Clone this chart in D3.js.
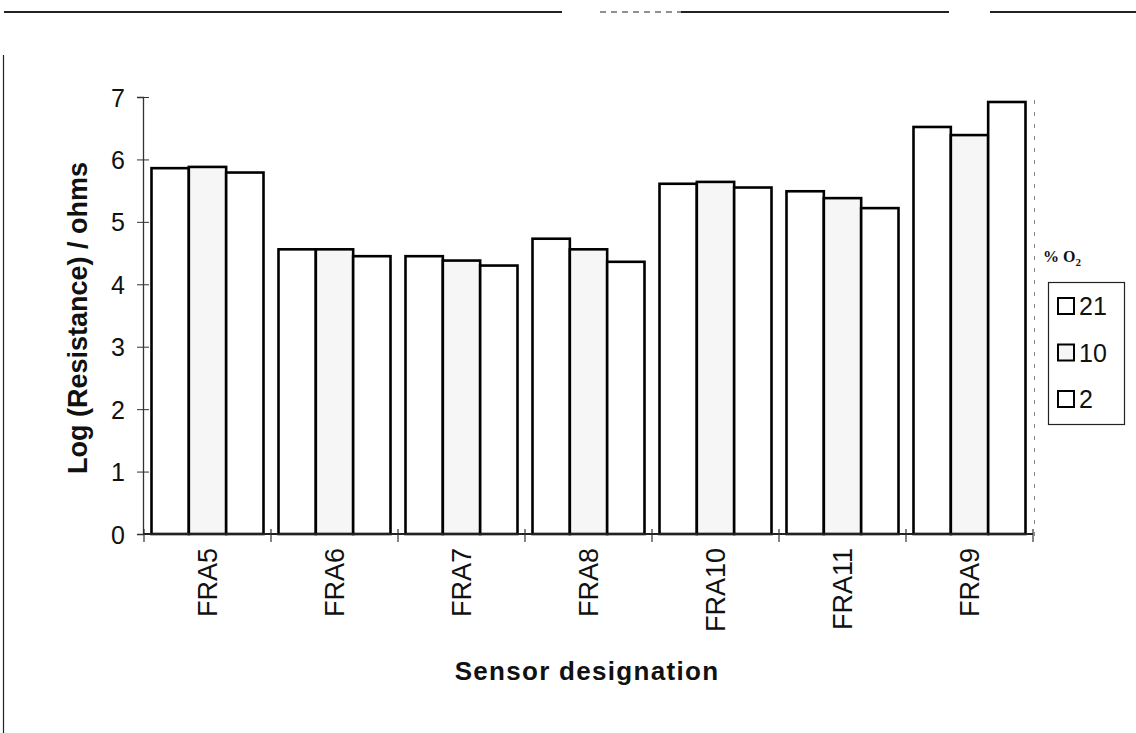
<!DOCTYPE html>
<html>
<head>
<meta charset="utf-8">
<script src="https://cdn.jsdelivr.net/npm/d3@7"></script>
<style>
  html, body { margin: 0; padding: 0; background: #fff; }
  svg { display: block; }
  text { font-family: "Liberation Sans", Arial, sans-serif; fill: #111; }
</style>
</head>
<body>
<svg id="chart" width="1136" height="733"></svg>
<script>
// ---- data ----
const categories = ["FRA5", "FRA6", "FRA7", "FRA8", "FRA10", "FRA11", "FRA9"];
const seriesNames = ["21", "10", "2"];
const o2_21 = [5.86, 4.56, 4.45, 4.73, 5.61, 5.49, 6.52];
const o2_10 = [5.88, 4.56, 4.38, 4.56, 5.64, 5.38, 6.39];
const o2_2  = [5.79, 4.45, 4.30, 4.36, 5.55, 5.22, 6.92];
const yTicks = [0, 1, 2, 3, 4, 5, 6, 7];
const yTitle = "Log (Resistance) / ohms";
const xTitle = "Sensor designation";
const legendTitle = "% O";

const seriesValues = [o2_21, o2_10, o2_2];
const seriesFill = ["#ffffff", "#f6f6f6", "#ffffff"];

const svg = d3.select("#chart");

// frame lines of the scanned page
const frame = svg.append("g").attr("stroke", "#222").attr("fill", "none");
[[4, 562], [681, 949], [990, 1136]].forEach(([a, b]) => {
  frame.append("line").attr("x1", a).attr("x2", b).attr("y1", 12).attr("y2", 12).attr("stroke-width", 2);
});
frame.append("line").attr("x1", 600).attr("x2", 681).attr("y1", 12).attr("y2", 12)
  .attr("stroke-width", 1.2).attr("stroke-dasharray", "6,5");
frame.append("line").attr("x1", 3.5).attr("x2", 3.5).attr("y1", 55).attr("y2", 733)
  .attr("stroke-width", 1.2);

// scales
const x0 = d3.scaleBand().domain(categories).range([144, 1033]).paddingInner(0).paddingOuter(0);
const x1 = d3.scaleBand().domain(seriesNames).range([7.5, x0.bandwidth() - 7.5]).padding(0);
const y = d3.scaleLinear().domain([0, 7]).range([534, 97]);

// plot area right border (dotted)
svg.append("line").attr("x1", 1034.5).attr("x2", 1034.5).attr("y1", 100).attr("y2", 544)
  .attr("stroke", "#888").attr("stroke-width", 1).attr("stroke-dasharray", "4,8");

// bars
const groups = svg.append("g").selectAll("g").data(categories).join("g")
  .attr("transform", d => `translate(${x0(d)},0)`);
groups.selectAll("rect")
  .data((d, i) => seriesNames.map((s, k) => ({ s, k, v: seriesValues[k][i] })))
  .join("rect")
  .attr("x", d => x1(d.s))
  .attr("y", d => y(d.v))
  .attr("width", x1.bandwidth())
  .attr("height", d => y(0) - y(d.v))
  .attr("fill", d => seriesFill[d.k])
  .attr("stroke", "#000")
  .attr("stroke-width", 2.6);

// y axis
const yAxis = svg.append("g").attr("transform", "translate(143,0)")
  .call(d3.axisLeft(y).tickValues(yTicks).tickSize(6).tickPadding(12).tickFormat(d3.format("d")));
yAxis.select(".domain").attr("stroke", "#333").attr("stroke-width", 1.3);
yAxis.selectAll(".tick line").attr("x1", -6).attr("x2", 6).attr("stroke", "#333");
yAxis.selectAll(".tick text")
  .style("font-size", "25px").style("font-family", "'Liberation Sans', Arial, sans-serif")
  .attr("fill", "#111").attr("dy", "0.36em");

// x axis
const xAxis = svg.append("g").attr("transform", "translate(0,534)");
xAxis.append("line").attr("x1", 143).attr("x2", 1033).attr("y1", 0).attr("y2", 0)
  .attr("stroke", "#222").attr("stroke-width", 2);
const boundaries = categories.map(c => x0(c)).concat([x0(categories[categories.length - 1]) + x0.bandwidth()]);
xAxis.selectAll("line.tk").data(boundaries).join("line").attr("class", "tk")
  .attr("x1", d => d).attr("x2", d => d).attr("y1", -5).attr("y2", 8)
  .attr("stroke", "#333").attr("stroke-width", 1.2);
xAxis.selectAll("text").data(categories).join("text")
  .attr("transform", d => `translate(${x0(d) + x0.bandwidth() / 2},14) rotate(-90)`)
  .attr("text-anchor", "end")
  .attr("dy", "0.36em")
  .style("font-size", "27px")
  .text(d => d);

// axis titles
svg.append("text")
  .attr("transform", "translate(77,318) rotate(-90)")
  .attr("text-anchor", "middle").attr("dy", "0.36em")
  .style("font-size", "27px").style("font-weight", "bold")
  .text(yTitle);
svg.append("text")
  .attr("x", 587).attr("y", 680)
  .attr("text-anchor", "middle")
  .style("font-size", "26px").style("font-weight", "bold").style("letter-spacing", "1.3px")
  .text(xTitle);

// legend
const lt = svg.append("text").attr("x", 1043).attr("y", 262)
  .style("font-family", "'Liberation Serif', 'Times New Roman', serif")
  .style("font-size", "16px").style("font-weight", "bold");
lt.append("tspan").text(legendTitle);
lt.append("tspan").attr("dy", 4).style("font-size", "11px").text("2");

svg.append("rect").attr("x", 1048.5).attr("y", 282.5).attr("width", 76).attr("height", 142)
  .attr("fill", "#fff").attr("stroke", "#222").attr("stroke-width", 1.2);
const legendY = d3.scalePoint().domain(seriesNames).range([306, 399]);
const li = svg.append("g").selectAll("g").data(seriesNames).join("g")
  .attr("transform", d => `translate(1058,${legendY(d)})`);
li.append("rect").attr("x", 0).attr("y", -8).attr("width", 16).attr("height", 16)
  .attr("fill", (d, i) => seriesFill[i]).attr("stroke", "#000").attr("stroke-width", 2);
li.append("text").attr("x", 21).attr("dy", "0.36em")
  .style("font-size", "25px").text(d => d);
</script>
</body>
</html>
